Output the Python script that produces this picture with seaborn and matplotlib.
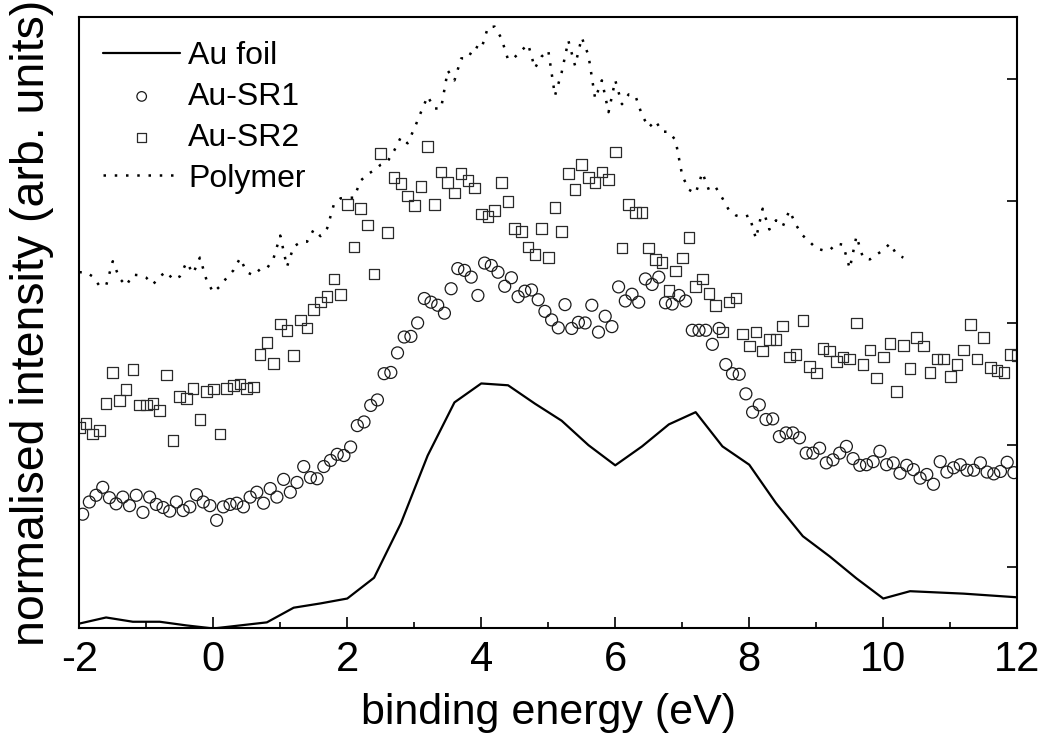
import numpy as np
import matplotlib
matplotlib.use('Agg')
import matplotlib.pyplot as plt
import seaborn as sns

# binding energies (eV) and normalised intensities
foil_e = np.linspace(-2.0, 12.0, 36)
foil_i = [0.08, 0.18, 0.11, 0.11, 0.05, 0.00, 0.05, 0.10, 0.34, 0.41,
          0.49, 0.83, 1.72, 2.83, 3.70, 4.01, 3.98, 3.68, 3.40, 3.00,
          2.67, 2.98, 3.34, 3.54, 2.98, 2.68, 2.05, 1.51, 1.18, 0.82,
          0.49, 0.61, 0.59, 0.57, 0.54, 0.51]

sr1_e = np.linspace(-1.95, 11.95, 140)
sr1_i = [1.87, 2.07, 2.18, 2.31, 2.14, 2.04, 2.15, 2.01, 2.18, 1.90,
         2.15, 2.03, 1.98, 1.92, 2.07, 1.93, 1.99, 2.19, 2.07, 2.01,
         1.77, 1.99, 2.03, 2.05, 1.99, 2.15, 2.23, 2.05, 2.29, 2.15,
         2.44, 2.23, 2.39, 2.65, 2.47, 2.45, 2.65, 2.75, 2.85, 2.83,
         2.97, 3.32, 3.38, 3.65, 3.74, 4.17, 4.19, 4.51, 4.77, 4.78,
         5.00, 5.40, 5.34, 5.29, 5.16, 5.56, 5.89, 5.86, 5.75, 5.45,
         5.98, 5.94, 5.83, 5.60, 5.74, 5.43, 5.52, 5.54, 5.38, 5.19,
         5.05, 4.92, 5.30, 4.91, 5.01, 5.00, 5.29, 4.85, 5.11, 4.94,
         5.59, 5.36, 5.47, 5.34, 5.72, 5.63, 5.75, 5.33, 5.31, 5.45,
         5.36, 4.88, 4.88, 4.88, 4.65, 4.91, 4.32, 4.17, 4.16, 3.84,
         3.54, 3.66, 3.42, 3.43, 3.14, 3.20, 3.20, 3.12, 2.87, 2.87,
         2.95, 2.71, 2.76, 2.87, 2.98, 2.78, 2.67, 2.68, 2.73, 2.90,
         2.68, 2.71, 2.54, 2.67, 2.60, 2.46, 2.52, 2.36, 2.73, 2.56,
         2.63, 2.68, 2.59, 2.59, 2.71, 2.56, 2.53, 2.57, 2.72, 2.55]

sr2_e = np.linspace(-2.0, 12.0, 141)
sr2_i = [3.29, 3.35, 3.18, 3.24, 3.68, 4.19, 3.73, 3.91, 4.24, 3.66,
         3.66, 3.68, 3.57, 4.15, 3.08, 3.80, 3.76, 3.93, 3.42, 3.88,
         3.92, 3.18, 3.93, 3.98, 4.00, 3.93, 3.95, 4.48, 4.68, 4.34,
         4.98, 4.88, 4.47, 5.05, 4.92, 5.22, 5.34, 5.43, 5.72, 5.47,
         6.94, 6.24, 6.87, 6.60, 5.80, 7.77, 6.48, 7.38, 7.28, 7.08,
         6.92, 7.23, 7.89, 6.94, 7.47, 7.30, 7.13, 7.45, 7.33, 7.21,
         6.78, 6.74, 6.84, 7.30, 6.99, 6.55, 6.50, 6.24, 6.12, 6.55,
         6.07, 6.89, 6.50, 7.45, 7.18, 7.59, 7.38, 7.30, 7.47, 7.35,
         7.80, 6.23, 6.94, 6.81, 6.81, 6.23, 6.04, 5.99, 5.53, 5.85,
         6.06, 6.40, 5.60, 5.72, 5.48, 5.29, 4.85, 5.34, 5.41, 4.82,
         4.62, 4.85, 4.54, 4.73, 4.73, 4.95, 4.44, 4.48, 5.04, 4.29,
         4.18, 4.58, 4.54, 4.37, 4.44, 4.41, 5.00, 4.32, 4.56, 4.10,
         4.44, 4.66, 3.88, 4.63, 4.25, 4.76, 4.62, 4.19, 4.41, 4.41,
         4.12, 4.32, 4.56, 4.97, 4.41, 4.76, 4.27, 4.22, 4.19, 4.48,
         4.47]

poly_e = np.linspace(-2.0, 10.3, 124)
poly_i = [5.83, 5.83, 5.76, 5.61, 5.61, 6.01, 5.73, 5.61, 5.79, 5.78,
          5.74, 5.63, 5.76, 5.84, 5.71, 5.76, 5.99, 5.81, 6.07, 5.70,
          5.50, 5.60, 5.74, 5.86, 6.06, 5.83, 5.78, 5.88, 5.89, 6.06,
          6.43, 5.92, 6.25, 6.32, 6.33, 6.53, 6.42, 6.55, 6.94, 7.04,
          7.05, 7.05, 7.33, 7.43, 7.50, 7.59, 7.64, 7.82, 8.04, 7.94,
          8.18, 8.45, 8.71, 8.51, 8.51, 9.13, 8.97, 9.33, 9.33, 9.53,
          9.48, 9.84, 9.85, 9.66, 9.31, 9.35, 9.46, 9.56, 9.17, 9.36,
          9.46, 8.72, 9.10, 9.62, 9.21, 9.67, 9.38, 8.67, 8.97, 8.45,
          8.97, 8.58, 8.74, 8.72, 8.40, 8.20, 8.31, 8.13, 8.13, 7.99,
          7.41, 7.18, 7.12, 7.46, 7.17, 7.22, 7.04, 6.84, 6.76, 6.73,
          6.76, 6.38, 6.87, 6.53, 6.68, 6.58, 6.84, 6.60, 6.43, 6.33,
          6.22, 6.19, 6.19, 6.30, 6.28, 5.89, 6.42, 6.06, 6.04, 6.12,
          6.19, 6.30, 6.12, 6.07]

sns.set_style('ticks')
plt.rcParams['font.family'] = ['Liberation Sans', 'DejaVu Sans']
plt.rcParams['axes.unicode_minus'] = False
for key in ['text.color', 'axes.labelcolor', 'xtick.color', 'ytick.color',
            'axes.edgecolor']:
    plt.rcParams[key] = 'black'

fig = plt.figure(figsize=(10.46, 7.42), dpi=100)
ax = fig.add_axes([0.0758, 0.1530, 0.8967, 0.8235])

sns.lineplot(x=foil_e, y=foil_i, color='black', lw=1.6, label='Au foil', ax=ax)
sns.scatterplot(x=sr1_e, y=sr1_i, marker='o', s=74, facecolors='none',
                edgecolor='#1a1a1a', linewidth=0.9, label='Au-SR1', ax=ax)
sns.scatterplot(x=sr2_e, y=sr2_i, marker='s', s=58, facecolors='none',
                edgecolor='#2a2a2a', linewidth=0.9, label='Au-SR2', ax=ax)
sns.lineplot(x=poly_e, y=poly_i, color='black', lw=1.8,
             linestyle=(0, (1, 3.5)), label='Polymer', ax=ax)

ax.set_xlim(-2, 12)
ax.set_ylim(0, 10)
ax.set_xticks(range(-2, 13, 2))
ax.set_xticks(range(-1, 12, 2), minor=True)
ax.set_yticks([1, 3, 5, 7, 9])
ax.tick_params(axis='x', which='major', direction='in', length=8, width=1.2,
               labelsize=30, pad=8, top=False)
ax.tick_params(axis='x', which='minor', direction='in', length=4.5, width=1.2,
               top=False)
ax.tick_params(axis='y', direction='in', left=False, labelleft=False,
               right=True, labelright=False, length=7, width=1.2)
for sp in ax.spines.values():
    sp.set_linewidth(1.5)

ax.set_xlabel('binding energy (eV)', fontsize=31, labelpad=10)
ax.set_ylabel('normalised intensity (arb. units)', fontsize=33.5, labelpad=18)

ax.legend(loc='upper left', bbox_to_anchor=(0.0185, 0.972), frameon=False,
          fontsize=23, handlelength=2.42, handletextpad=0.25, labelspacing=0.34,
          borderpad=0.2, borderaxespad=0, markerscale=0.8)

fig.savefig('out.png', dpi=100)
